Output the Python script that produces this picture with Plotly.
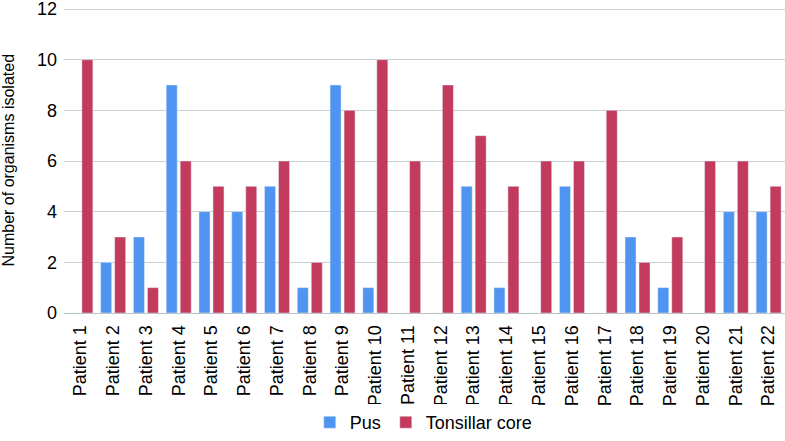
import plotly.graph_objects as go

patients = [f"Patient {i}" for i in range(1, 23)]
pus = [0, 2, 3, 9, 4, 4, 5, 1, 9, 1, 0, 0, 5, 1, 0, 5, 0, 3, 1, 0, 4, 4]
core = [10, 3, 1, 6, 5, 5, 6, 2, 8, 10, 6, 9, 7, 5, 6, 6, 8, 2, 3, 6, 6, 5]

fig = go.Figure()
fig.add_trace(go.Bar(x=patients, y=pus, name="Pus", marker_color="#4E94F0"))
fig.add_trace(go.Bar(x=patients, y=core, name="Tonsillar core", marker_color="#C23A5C"))

fig.update_layout(
    width=785, height=441,
    margin=dict(l=64, r=0, t=8, b=121),
    plot_bgcolor="white", paper_bgcolor="white",
    font=dict(family="Liberation Sans, Arial, sans-serif", size=18, color="black"),
    barmode="group", bargap=0.146, bargroupgap=0.214,
    legend=dict(orientation="h", x=0.499, xanchor="center", y=-0.30, yanchor="top",
                font=dict(size=18)),
    showlegend=True,
    annotations=[dict(text="Number of organisms isolated", xref="paper", yref="paper",
                      x=-56/721, y=0.5, xanchor="center", yanchor="middle",
                      textangle=-90, showarrow=False, font=dict(size=16))],
)
fig.update_xaxes(tickangle=-90, showgrid=False, showline=True, linecolor="#B8C4C8",
                 ticks="", tickfont=dict(size=18), automargin=False, ticklabelstandoff=4)
fig.update_yaxes(range=[0, 12.04], dtick=2, showgrid=True, gridcolor="#C8D0D4",
                 zeroline=False, showline=False, ticks="", tickfont=dict(size=18),
                 automargin=False, ticklabelstandoff=6, ticklabeloverflow="allow")

fig.write_html("out.html", config={"displayModeBar": False},
               post_script="document.body.style.margin='0';document.body.style.overflow='hidden';")
